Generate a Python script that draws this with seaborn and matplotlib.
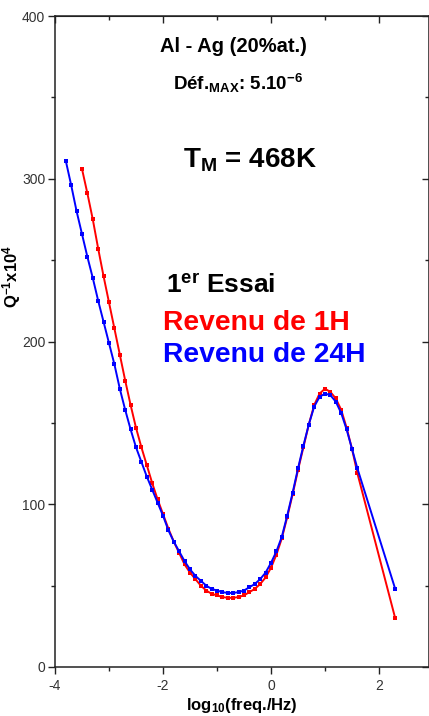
import matplotlib
matplotlib.use("Agg")
import matplotlib.pyplot as plt
from matplotlib.ticker import MultipleLocator
import seaborn as sns
import pandas as pd

# log10(freq) positions, 0.1 decade steps plus a last point at 2.3
x_1h = [-3.5, -3.4, -3.3, -3.2, -3.1, -3.0, -2.9, -2.8, -2.7, -2.6,
        -2.5, -2.4, -2.3, -2.2, -2.1, -2.0, -1.9, -1.8, -1.7, -1.6,
        -1.5, -1.4, -1.3, -1.2, -1.1, -1.0, -0.9, -0.8, -0.7, -0.6,
        -0.5, -0.4, -0.3, -0.2, -0.1, 0.0, 0.1, 0.2, 0.3, 0.4,
        0.5, 0.6, 0.7, 0.8, 0.9, 1.0, 1.1, 1.2, 1.3, 1.4,
        1.5, 1.6, 2.3]
q_1h = [306, 291, 275, 257, 240, 224, 208, 192, 176, 161,
        147, 135, 124, 113, 103, 94, 85, 77, 70, 63,
        58, 54, 50, 47, 45, 44, 43, 42.5, 42.5, 43,
        44, 46, 48, 51, 55, 61, 69, 79, 92, 106,
        121, 135, 149, 161, 168, 171, 169, 165, 158, 147,
        134, 119, 30]

x_24h = [-3.8, -3.7, -3.6, -3.5, -3.4, -3.3, -3.2, -3.1, -3.0, -2.9,
         -2.8, -2.7, -2.6, -2.5, -2.4, -2.3, -2.2, -2.1, -2.0, -1.9,
         -1.8, -1.7, -1.6, -1.5, -1.4, -1.3, -1.2, -1.1, -1.0, -0.9,
         -0.8, -0.7, -0.6, -0.5, -0.4, -0.3, -0.2, -0.1, 0.0, 0.1,
         0.2, 0.3, 0.4, 0.5, 0.6, 0.7, 0.8, 0.9, 1.0, 1.1,
         1.2, 1.3, 1.4, 1.5, 1.6, 2.3]
q_24h = [311, 296, 280, 266, 252, 239, 225, 212, 199, 186,
         171, 158, 146, 135, 126, 117, 109, 101, 93, 84,
         77, 71, 65, 60, 56, 53, 50, 48, 47, 46,
         45.5, 45.5, 46, 47, 49, 51, 54, 58, 64, 71,
         80, 93, 107, 122, 136, 149, 160, 166, 168, 167,
         163, 156, 146, 134, 122, 48]

df = pd.concat([
    pd.DataFrame({"logf": x_1h, "Q": q_1h, "serie": "1H"}),
    pd.DataFrame({"logf": x_24h, "Q": q_24h, "serie": "24H"}),
])

sns.set_style("ticks")
plt.rcParams["font.family"] = ["Liberation Sans", "DejaVu Sans"]
plt.rcParams["mathtext.fontset"] = "custom"
plt.rcParams["mathtext.rm"] = "Liberation Sans:bold"
plt.rcParams["mathtext.it"] = "Liberation Sans:bold"
plt.rcParams["mathtext.bf"] = "Liberation Sans:bold"
plt.rcParams["axes.unicode_minus"] = False
plt.rcParams["text.color"] = "black"
plt.rcParams["axes.labelcolor"] = "black"

W, H = 429, 716
fig = plt.figure(figsize=(W / 100, H / 100), dpi=100)
ax = fig.add_axes([55 / W, (H - 667) / H, (428.5 - 55) / W, (667 - 16) / H])

sns.lineplot(
    data=df, x="logf", y="Q", hue="serie",
    palette={"1H": "#ff0000", "24H": "#0000ff"},
    marker="s", markersize=3.1, markeredgewidth=0,
    linewidth=1.4, estimator=None, legend=False, ax=ax
)

ax.set_xlim(-4, -4 + (428.5 - 55) / 54)
ax.set_ylim(0, 400)
ax.xaxis.set_major_locator(MultipleLocator(2))
ax.xaxis.set_minor_locator(MultipleLocator(1))
ax.yaxis.set_major_locator(MultipleLocator(100))
ax.yaxis.set_minor_locator(MultipleLocator(50))

for s in ax.spines.values():
    s.set_linewidth(1.1)
    s.set_color("#222222")

ax.tick_params(which="both", direction="out", color="#222222", width=1.0,
               labelsize=10, labelcolor="#333333", top=False, right=False)
ax.tick_params(which="major", length=5)
ax.tick_params(which="minor", length=3)
ax.tick_params(axis="x", pad=4)
ax.tick_params(axis="y", pad=2)

# mirrored ticks on top and right point inwards
top = ax.secondary_xaxis("top")
top.xaxis.set_major_locator(MultipleLocator(2))
top.xaxis.set_minor_locator(MultipleLocator(1))
top.tick_params(which="both", direction="in", labeltop=False, color="#222222", width=1.0)
top.tick_params(which="major", length=5)
top.tick_params(which="minor", length=3)
right = ax.secondary_yaxis("right")
right.yaxis.set_major_locator(MultipleLocator(100))
right.yaxis.set_minor_locator(MultipleLocator(50))
right.tick_params(which="both", direction="in", labelright=False, color="#222222", width=1.0)
right.tick_params(which="major", length=5)
right.tick_params(which="minor", length=3)

ax.set_xlabel(r"log$_{10}$(freq./Hz)", fontsize=12, fontweight="bold", labelpad=2)
ax.set_ylabel(r"Q$^{-1}$x10$^{4}$", fontsize=12, fontweight="bold")
ax.yaxis.set_label_coords(-0.085, 0.6)

tr = ax.transAxes
ax.text(0.477, 0.945, "Al - Ag (20%at.)", transform=tr, ha="center", va="baseline",
        fontsize=14.5, fontweight="bold")
ax.text(0.49, 0.886, r"Déf.$_{\mathrm{MAX}}$: 5.10$^{-6}$", transform=tr, ha="center",
        va="baseline", fontsize=13.5, fontweight="bold")
ax.text(0.522, 0.768, r"T$_{\mathrm{M}}$ = 468K", transform=tr, ha="center", va="baseline",
        fontsize=20, fontweight="bold")
ax.text(0.297, 0.574, r"1$^{\mathrm{er}}$ Essai", transform=tr, ha="left", va="baseline",
        fontsize=19, fontweight="bold", color="black")
ax.text(0.289, 0.518, "Revenu de 1H", transform=tr, ha="left", va="baseline",
        fontsize=20.3, fontweight="bold", color="#ff0000")
ax.text(0.289, 0.468, "Revenu de 24H", transform=tr, ha="left", va="baseline",
        fontsize=20.3, fontweight="bold", color="#0000ff")

fig.savefig("out.png", dpi=100)
